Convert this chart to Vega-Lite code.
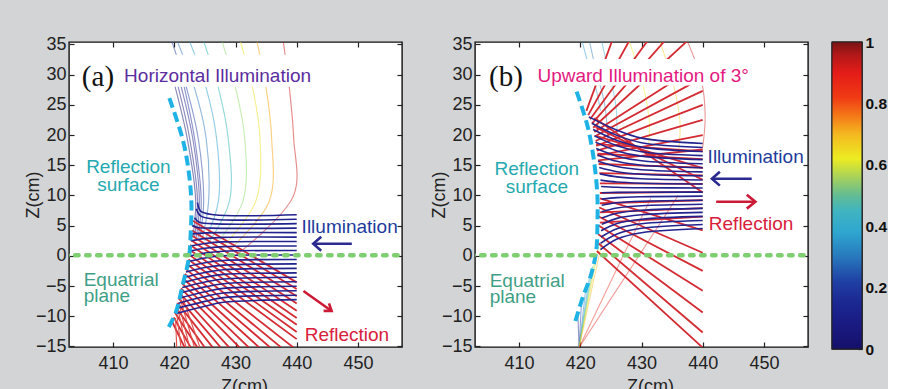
{
"$schema": "https://vega.github.io/schema/vega-lite/v6.json",
"background": "#d3d4d6",
"padding": {"left": 23, "top": 34, "right": 0, "bottom": 0},
"spacing": 20,
"config": {
 "view": {"fill": "white", "stroke": "#111", "strokeWidth": 1.4},
 "axis": {"labelFont": "Liberation Sans", "labelFontSize": 18, "labelColor": "#222", "titleFont": "Liberation Sans", "titleFontSize": 18, "titleFontWeight": "normal", "titleColor": "#222", "tickColor": "#222", "tickSize": -5, "tickWidth": 1.2, "domain": false, "grid": false},
 "text": {"font": "Liberation Sans"}
},
"datasets": {
 "eq": [{"p":0,"x":402,"z":0.1},{"p":1,"x":458,"z":0.1}],
 "surf_a": [{"p":0,"x":419.1,"z":-11.8},{"p":1,"x":420.3,"z":-9.2},{"p":2,"x":421.4,"z":-4.7},{"p":3,"x":422.4,"z":-0.3},{"p":4,"x":422.7,"z":4.2},{"p":5,"x":422.8,"z":8.6},{"p":6,"x":422.4,"z":13.6},{"p":7,"x":421.4,"z":19.2},{"p":8,"x":419.2,"z":26.1}],
 "surf_b": [{"p":0,"x":419.2,"z":-10.8},{"p":1,"x":420.4,"z":-6.9},{"p":2,"x":421.8,"z":-3},{"p":3,"x":422.6,"z":0.8},{"p":4,"x":422.8,"z":5.3},{"p":5,"x":422.8,"z":9.7},{"p":6,"x":422.3,"z":15.3},{"p":7,"x":421.2,"z":21.4},{"p":8,"x":419.4,"z":27.2}],
 "inc_a": [
  {"id":"a0","p":0,"x":440,"z":6.8},{"id":"a0","p":1,"x":426.5,"z":6.8},{"id":"a0","p":2,"x":424.3,"z":7.4},{"id":"a0","p":3,"x":423.8,"z":8.8},
  {"id":"a1","p":0,"x":440,"z":6.06},{"id":"a1","p":1,"x":426.5,"z":6.06},{"id":"a1","p":2,"x":424.3,"z":6.6},{"id":"a1","p":3,"x":423.6,"z":7.8},
  {"id":"a2","p":0,"x":440,"z":5.32},{"id":"a2","p":1,"x":426,"z":5.32},{"id":"a2","p":2,"x":424,"z":5.6},{"id":"a2","p":3,"x":423.3,"z":6.3},
  {"id":"a3","p":0,"x":440,"z":4.58},{"id":"a3","p":1,"x":426,"z":4.58},{"id":"a3","p":2,"x":423.8,"z":4.7},{"id":"a3","p":3,"x":422.9,"z":5.0},
  {"id":"a4","p":0,"x":440,"z":3.84},{"id":"a4","p":1,"x":428,"z":3.84},{"id":"a4","p":2,"x":425,"z":3.8},{"id":"a4","p":3,"x":422.8,"z":3.6},
  {"id":"a5","p":0,"x":440,"z":3.1},{"id":"a5","p":1,"x":428,"z":3.05},{"id":"a5","p":2,"x":425,"z":2.85},{"id":"a5","p":3,"x":422.7,"z":2.5},
  {"id":"a6","p":0,"x":440,"z":2.36},{"id":"a6","p":1,"x":428,"z":2.3},{"id":"a6","p":2,"x":425,"z":2.05},{"id":"a6","p":3,"x":422.6,"z":1.63},
  {"id":"a7","p":0,"x":440,"z":1.62},{"id":"a7","p":1,"x":428,"z":1.52},{"id":"a7","p":2,"x":425,"z":1.25},{"id":"a7","p":3,"x":422.5,"z":0.77},
  {"id":"a8","p":0,"x":440,"z":0.88},{"id":"a8","p":1,"x":428,"z":0.75},{"id":"a8","p":2,"x":425,"z":0.45},{"id":"a8","p":3,"x":422.4,"z":-0.09},
  {"id":"a9","p":0,"x":440,"z":0.14},{"id":"a9","p":1,"x":428,"z":0},{"id":"a9","p":2,"x":425,"z":-0.35},{"id":"a9","p":3,"x":422.2,"z":-0.95},
  {"id":"a10","p":0,"x":440,"z":-0.6},{"id":"a10","p":1,"x":428,"z":-0.78},{"id":"a10","p":2,"x":425,"z":-1.15},{"id":"a10","p":3,"x":422.0,"z":-1.81},
  {"id":"a11","p":0,"x":440,"z":-1.34},{"id":"a11","p":1,"x":428,"z":-1.55},{"id":"a11","p":2,"x":425,"z":-1.95},{"id":"a11","p":3,"x":421.9,"z":-2.68},
  {"id":"a12","p":0,"x":440,"z":-2.08},{"id":"a12","p":1,"x":428,"z":-2.3},{"id":"a12","p":2,"x":425,"z":-2.75},{"id":"a12","p":3,"x":421.7,"z":-3.54},
  {"id":"a13","p":0,"x":440,"z":-2.82},{"id":"a13","p":1,"x":428,"z":-3.08},{"id":"a13","p":2,"x":425,"z":-3.55},{"id":"a13","p":3,"x":421.5,"z":-4.4},
  {"id":"a14","p":0,"x":440,"z":-3.56},{"id":"a14","p":1,"x":428,"z":-3.85},{"id":"a14","p":2,"x":425,"z":-4.35},{"id":"a14","p":3,"x":421.3,"z":-5.26},
  {"id":"a15","p":0,"x":440,"z":-4.3},{"id":"a15","p":1,"x":428,"z":-4.62},{"id":"a15","p":2,"x":425,"z":-5.15},{"id":"a15","p":3,"x":421.1,"z":-6.12},
  {"id":"a16","p":0,"x":440,"z":-5.04},{"id":"a16","p":1,"x":428,"z":-5.4},{"id":"a16","p":2,"x":425,"z":-5.95},{"id":"a16","p":3,"x":420.9,"z":-6.98},
  {"id":"a17","p":0,"x":440,"z":-5.78},{"id":"a17","p":1,"x":428,"z":-6.16},{"id":"a17","p":2,"x":425,"z":-6.75},{"id":"a17","p":3,"x":420.7,"z":-7.84},
  {"id":"a18","p":0,"x":440,"z":-6.52},{"id":"a18","p":1,"x":428,"z":-6.92},{"id":"a18","p":2,"x":425,"z":-7.55},{"id":"a18","p":3,"x":420.5,"z":-8.7},
  {"id":"a19","p":0,"x":440,"z":-7.26},{"id":"a19","p":1,"x":428,"z":-7.7},{"id":"a19","p":2,"x":425,"z":-8.35},{"id":"a19","p":3,"x":420.3,"z":-9.56}
 ],
 "ref_a": [
  {"id":"r0","p":0,"x":423.0,"z":5.8},{"id":"r0","p":1,"x":440,"z":-4.4},
  {"id":"r1","p":0,"x":423.0,"z":5.0},{"id":"r1","p":1,"x":440,"z":-5.5},
  {"id":"r2","p":0,"x":422.9,"z":4.2},{"id":"r2","p":1,"x":440,"z":-6.7},
  {"id":"r3","p":0,"x":422.8,"z":3.4},{"id":"r3","p":1,"x":440,"z":-7.9},
  {"id":"r4","p":0,"x":422.7,"z":2.6},{"id":"r4","p":1,"x":440,"z":-9.1},
  {"id":"r5","p":0,"x":422.6,"z":1.8},{"id":"r5","p":1,"x":440,"z":-10.3},
  {"id":"r6","p":0,"x":422.5,"z":1.0},{"id":"r6","p":1,"x":440,"z":-11.4},
  {"id":"r7","p":0,"x":422.4,"z":0.2},{"id":"r7","p":1,"x":440,"z":-12.6},
  {"id":"r8","p":0,"x":422.3,"z":-0.6},{"id":"r8","p":1,"x":440,"z":-13.8},
  {"id":"r9","p":0,"x":422.1,"z":-1.4},{"id":"r9","p":1,"x":439.5,"z":-15.2},
  {"id":"r10","p":0,"x":421.9,"z":-2.2},{"id":"r10","p":1,"x":437.5,"z":-15.2},
  {"id":"r11","p":0,"x":421.7,"z":-3.0},{"id":"r11","p":1,"x":435.7,"z":-15.2},
  {"id":"r12","p":0,"x":421.5,"z":-3.8},{"id":"r12","p":1,"x":433.9,"z":-15.2},
  {"id":"r13","p":0,"x":421.3,"z":-4.6},{"id":"r13","p":1,"x":432.2,"z":-15.2},
  {"id":"r14","p":0,"x":421.1,"z":-5.4},{"id":"r14","p":1,"x":430.7,"z":-15.2},
  {"id":"r15","p":0,"x":420.9,"z":-6.2},{"id":"r15","p":1,"x":429.0,"z":-15.2},
  {"id":"r16","p":0,"x":420.7,"z":-7.0},{"id":"r16","p":1,"x":427.6,"z":-15.2},
  {"id":"r17","p":0,"x":420.5,"z":-7.8},{"id":"r17","p":1,"x":426.3,"z":-15.2},
  {"id":"r18","p":0,"x":420.3,"z":-8.6},{"id":"r18","p":1,"x":425.0,"z":-15.2},
  {"id":"r19","p":0,"x":420.1,"z":-9.4},{"id":"r19","p":1,"x":423.8,"z":-15.2},
  {"id":"r20","p":0,"x":419.9,"z":-10.2},{"id":"r20","p":1,"x":422.7,"z":-15.2},
  {"id":"r21","p":0,"x":419.7,"z":-11.0},{"id":"r21","p":1,"x":421.7,"z":-15.2}
 ],
 "ref_a_thin": [
  {"id":"t0","p":0,"x":420.2,"z":-10.3},{"id":"t0","p":1,"x":420.4,"z":-15.2},
  {"id":"t1","p":0,"x":420.4,"z":-9.6},{"id":"t1","p":1,"x":421.1,"z":-15.2},
  {"id":"t2","p":0,"x":420.6,"z":-8.8},{"id":"t2","p":1,"x":421.9,"z":-15.2},
  {"id":"t3","p":0,"x":420.8,"z":-8.0},{"id":"t3","p":1,"x":422.5,"z":-15.2},
  {"id":"t4","p":0,"x":421.0,"z":-7.2},{"id":"t4","p":1,"x":423.3,"z":-15.2},
  {"id":"t5","p":0,"x":421.2,"z":-6.4},{"id":"t5","p":1,"x":424.2,"z":-15.2}
 ],
 "arc_a": [
  {"id":"k0","v":0.02,"p":0,"x":423.0,"z":3},{"id":"k0","v":0.02,"p":1,"x":423.5,"z":9},{"id":"k0","v":0.02,"p":2,"x":422.1,"z":19.5},{"id":"k0","v":0.02,"p":3,"x":420.0,"z":28.5},
  {"id":"k1","v":0.06,"p":0,"x":423.3,"z":3},{"id":"k1","v":0.06,"p":1,"x":423.8,"z":9},{"id":"k1","v":0.06,"p":2,"x":422.5,"z":19.5},{"id":"k1","v":0.06,"p":3,"x":420.5,"z":28.5},
  {"id":"k2","v":0.1,"p":0,"x":423.6,"z":3},{"id":"k2","v":0.1,"p":1,"x":424.1,"z":9},{"id":"k2","v":0.1,"p":2,"x":423.0,"z":19.5},{"id":"k2","v":0.1,"p":3,"x":421.0,"z":28.5},
  {"id":"k3","v":0.14,"p":0,"x":423.9,"z":3},{"id":"k3","v":0.14,"p":1,"x":424.4,"z":9},{"id":"k3","v":0.14,"p":2,"x":423.3,"z":19.5},{"id":"k3","v":0.14,"p":3,"x":421.5,"z":28.5},
  {"id":"k4","v":0.2,"p":0,"x":424.2,"z":3},{"id":"k4","v":0.2,"p":1,"x":424.8,"z":9},{"id":"k4","v":0.2,"p":2,"x":423.9,"z":19.5},{"id":"k4","v":0.2,"p":3,"x":422.0,"z":27.8},{"id":"k4","v":0.2,"p":4,"x":419.6,"z":35.5},
  {"id":"k5","v":0.3,"p":0,"x":424.6,"z":3},{"id":"k5","v":0.3,"p":1,"x":425.6,"z":9},{"id":"k5","v":0.3,"p":2,"x":425.2,"z":19.5},{"id":"k5","v":0.3,"p":3,"x":423.3,"z":27.8},{"id":"k5","v":0.3,"p":4,"x":420.5,"z":35.5},
  {"id":"k6","v":0.38,"p":0,"x":425.0,"z":2.5},{"id":"k6","v":0.38,"p":1,"x":427.2,"z":9},{"id":"k6","v":0.38,"p":2,"x":426.9,"z":19.5},{"id":"k6","v":0.38,"p":3,"x":425.2,"z":27.8},{"id":"k6","v":0.38,"p":4,"x":422.5,"z":35.5},
  {"id":"k7","v":0.45,"p":0,"x":425.5,"z":2},{"id":"k7","v":0.45,"p":1,"x":429.0,"z":9},{"id":"k7","v":0.45,"p":2,"x":428.8,"z":19.5},{"id":"k7","v":0.45,"p":3,"x":427.2,"z":27.8},{"id":"k7","v":0.45,"p":4,"x":424.8,"z":35.5},
  {"id":"k8","v":0.55,"p":0,"x":426.5,"z":1.5},{"id":"k8","v":0.55,"p":1,"x":431.2,"z":9},{"id":"k8","v":0.55,"p":2,"x":431.5,"z":19.5},{"id":"k8","v":0.55,"p":3,"x":430.0,"z":27.8},{"id":"k8","v":0.55,"p":4,"x":427.8,"z":35.5},
  {"id":"k9","v":0.62,"p":0,"x":427.5,"z":1},{"id":"k9","v":0.62,"p":1,"x":433.3,"z":9},{"id":"k9","v":0.62,"p":2,"x":434.0,"z":19.5},{"id":"k9","v":0.62,"p":3,"x":432.8,"z":27.8},{"id":"k9","v":0.62,"p":4,"x":430.8,"z":35.5},
  {"id":"k10","v":0.72,"p":0,"x":428.5,"z":0.5},{"id":"k10","v":0.72,"p":1,"x":435.5,"z":9},{"id":"k10","v":0.72,"p":2,"x":435.9,"z":19.5},{"id":"k10","v":0.72,"p":3,"x":435.0,"z":27.8},{"id":"k10","v":0.72,"p":4,"x":433.5,"z":35.5},
  {"id":"k11","v":0.92,"p":0,"x":430.0,"z":0},{"id":"k11","v":0.92,"p":1,"x":439.5,"z":10},{"id":"k11","v":0.92,"p":2,"x":439.5,"z":19.5},{"id":"k11","v":0.92,"p":3,"x":438.8,"z":27.8},{"id":"k11","v":0.92,"p":4,"x":437.8,"z":35.5}
 ],
 "inc_b": [
  {"id":"b0","p":0,"x":440,"z":18.6},{"id":"b0","p":1,"x":430,"z":19.48},{"id":"b0","p":2,"x":426,"z":20.8},{"id":"b0","p":3,"x":421.4,"z":23.0},
  {"id":"b1","p":0,"x":440,"z":17.93},{"id":"b1","p":1,"x":430,"z":18.73},{"id":"b1","p":2,"x":426,"z":19.94},{"id":"b1","p":3,"x":421.9,"z":21.95},
  {"id":"b2","p":0,"x":440,"z":17.26},{"id":"b2","p":1,"x":430,"z":17.99},{"id":"b2","p":2,"x":426,"z":19.09},{"id":"b2","p":3,"x":422.1,"z":20.91},
  {"id":"b3","p":0,"x":440,"z":16.59},{"id":"b3","p":1,"x":430,"z":17.24},{"id":"b3","p":2,"x":426,"z":18.23},{"id":"b3","p":3,"x":422.3,"z":19.86},
  {"id":"b4","p":0,"x":440,"z":15.92},{"id":"b4","p":1,"x":430,"z":16.5},{"id":"b4","p":2,"x":426,"z":17.37},{"id":"b4","p":3,"x":422.5,"z":18.82},
  {"id":"b5","p":0,"x":440,"z":15.24},{"id":"b5","p":1,"x":430,"z":15.74},{"id":"b5","p":2,"x":426,"z":16.5},{"id":"b5","p":3,"x":422.6,"z":17.76},
  {"id":"b6","p":0,"x":440,"z":14.57},{"id":"b6","p":1,"x":430,"z":15.0},{"id":"b6","p":2,"x":426,"z":15.64},{"id":"b6","p":3,"x":422.8,"z":16.71},
  {"id":"b7","p":0,"x":440,"z":13.9},{"id":"b7","p":1,"x":430,"z":14.25},{"id":"b7","p":2,"x":426,"z":14.78},{"id":"b7","p":3,"x":422.9,"z":15.66},
  {"id":"b8","p":0,"x":440,"z":13.23},{"id":"b8","p":1,"x":430,"z":13.51},{"id":"b8","p":2,"x":426,"z":13.93},{"id":"b8","p":3,"x":423.1,"z":14.62},
  {"id":"b9","p":0,"x":440,"z":12.56},{"id":"b9","p":1,"x":430,"z":12.76},{"id":"b9","p":2,"x":426,"z":13.07},{"id":"b9","p":3,"x":423.2,"z":13.57},
  {"id":"b10","p":0,"x":440,"z":11.89},{"id":"b10","p":1,"x":430,"z":12.02},{"id":"b10","p":2,"x":426,"z":12.21},{"id":"b10","p":3,"x":423.3,"z":12.53},
  {"id":"b11","p":0,"x":440,"z":11.22},{"id":"b11","p":1,"x":430,"z":11.27},{"id":"b11","p":2,"x":426,"z":11.35},{"id":"b11","p":3,"x":423.4,"z":11.48},
  {"id":"b12","p":0,"x":440,"z":10.55},{"id":"b12","p":1,"x":430,"z":10.53},{"id":"b12","p":2,"x":426,"z":10.5},{"id":"b12","p":3,"x":423.5,"z":10.44},
  {"id":"b13","p":0,"x":440,"z":9.88},{"id":"b13","p":1,"x":430,"z":9.78},{"id":"b13","p":2,"x":426,"z":9.64},{"id":"b13","p":3,"x":423.5,"z":9.39},
  {"id":"b14","p":0,"x":440,"z":9.21},{"id":"b14","p":1,"x":430,"z":9.04},{"id":"b14","p":2,"x":426,"z":8.78},{"id":"b14","p":3,"x":423.5,"z":8.35},
  {"id":"b15","p":0,"x":440,"z":8.54},{"id":"b15","p":1,"x":430,"z":8.29},{"id":"b15","p":2,"x":426,"z":7.92},{"id":"b15","p":3,"x":423.5,"z":7.3},
  {"id":"b16","p":0,"x":440,"z":7.86},{"id":"b16","p":1,"x":430,"z":7.54},{"id":"b16","p":2,"x":426,"z":7.05},{"id":"b16","p":3,"x":423.5,"z":6.24},
  {"id":"b17","p":0,"x":440,"z":7.19},{"id":"b17","p":1,"x":430,"z":6.79},{"id":"b17","p":2,"x":426,"z":6.2},{"id":"b17","p":3,"x":423.5,"z":5.2},
  {"id":"b18","p":0,"x":440,"z":6.52},{"id":"b18","p":1,"x":430,"z":6.05},{"id":"b18","p":2,"x":426,"z":5.34},{"id":"b18","p":3,"x":423.4,"z":4.15},
  {"id":"b19","p":0,"x":440,"z":5.85},{"id":"b19","p":1,"x":430,"z":5.3},{"id":"b19","p":2,"x":426,"z":4.48},{"id":"b19","p":3,"x":423.4,"z":3.11},
  {"id":"b20","p":0,"x":440,"z":5.18},{"id":"b20","p":1,"x":430,"z":4.56},{"id":"b20","p":2,"x":426,"z":3.62},{"id":"b20","p":3,"x":423.3,"z":2.06},
  {"id":"b21","p":0,"x":440,"z":4.51},{"id":"b21","p":1,"x":430,"z":3.81},{"id":"b21","p":2,"x":426,"z":2.77},{"id":"b21","p":3,"x":423.3,"z":1.02}
 ],
 "ref_b": [
  {"id":"u0","p":0,"x":421.0,"z":24.0},{"id":"u0","p":1,"x":425.2,"z":35.6},
  {"id":"u1","p":0,"x":421.3,"z":23.3},{"id":"u1","p":1,"x":428.0,"z":35.6},
  {"id":"u2","p":0,"x":421.6,"z":22.6},{"id":"u2","p":1,"x":431.0,"z":35.6},
  {"id":"u3","p":0,"x":421.9,"z":21.9},{"id":"u3","p":1,"x":433.8,"z":35.6},
  {"id":"u4","p":0,"x":422.1,"z":21.2},{"id":"u4","p":1,"x":437.5,"z":35.6},
  {"id":"u5","p":0,"x":422.3,"z":20.5},{"id":"u5","p":1,"x":440,"z":32.0},
  {"id":"u6","p":0,"x":422.4,"z":19.8},{"id":"u6","p":1,"x":440,"z":29.5},
  {"id":"u7","p":0,"x":422.5,"z":19.0},{"id":"u7","p":1,"x":440,"z":27.3},
  {"id":"u8","p":0,"x":422.6,"z":18.2},{"id":"u8","p":1,"x":440,"z":25.0},
  {"id":"u9","p":0,"x":422.7,"z":17.4},{"id":"u9","p":1,"x":440,"z":22.5},
  {"id":"u10","p":0,"x":422.8,"z":16.6},{"id":"u10","p":1,"x":440,"z":20.0},
  {"id":"u11","p":0,"x":422.9,"z":15.8},{"id":"u11","p":1,"x":440,"z":17.6},
  {"id":"h0","p":0,"x":422.6,"z":18.5},{"id":"h0","p":1,"x":440,"z":17.3},
  {"id":"h1","p":0,"x":422.8,"z":16.9},{"id":"h1","p":1,"x":440,"z":16.0},
  {"id":"h2","p":0,"x":423.0,"z":15.2},{"id":"h2","p":1,"x":440,"z":14.6},
  {"id":"h3","p":0,"x":423.1,"z":13.7},{"id":"h3","p":1,"x":440,"z":13.3},
  {"id":"h4","p":0,"x":423.2,"z":12.0},{"id":"h4","p":1,"x":440,"z":11.9},
  {"id":"h5","p":0,"x":423.2,"z":10.4},{"id":"h5","p":1,"x":440,"z":10.6},
  {"id":"h6","p":0,"x":423.2,"z":8.7},{"id":"h6","p":1,"x":440,"z":9.2},
  {"id":"h7","p":0,"x":423.2,"z":7.2},{"id":"h7","p":1,"x":440,"z":7.9},
  {"id":"h8","p":0,"x":423.2,"z":5.5},{"id":"h8","p":1,"x":440,"z":6.5},
  {"id":"d0","p":0,"x":423.2,"z":9.5},{"id":"d0","p":1,"x":440,"z":4.2},
  {"id":"d1","p":0,"x":423.1,"z":8.0},{"id":"d1","p":1,"x":440,"z":0.5},
  {"id":"d2","p":0,"x":423.0,"z":6.5},{"id":"d2","p":1,"x":440,"z":-2.5},
  {"id":"d3","p":0,"x":423.0,"z":5.0},{"id":"d3","p":1,"x":440,"z":-5.8},
  {"id":"d4","p":0,"x":422.9,"z":3.6},{"id":"d4","p":1,"x":440,"z":-9.4},
  {"id":"d5","p":0,"x":422.8,"z":2.2},{"id":"d5","p":1,"x":440,"z":-12.7},
  {"id":"d6","p":0,"x":422.7,"z":0.8},{"id":"d6","p":1,"x":440,"z":-15.2},
  {"id":"x0","p":0,"x":422.3,"z":22.8},{"id":"x0","p":1,"x":440,"z":10.5},
  {"id":"x1","p":0,"x":422.5,"z":21.3},{"id":"x1","p":1,"x":440,"z":12.6},
  {"id":"x2","p":0,"x":422.7,"z":19.8},{"id":"x2","p":1,"x":440,"z":14.5}
 ],
 "arc_b": [
  {"id":"f0","v":0.1,"p":0,"x":419.8,"z":-15.2},{"id":"f0","v":0.1,"p":1,"x":419.6,"z":-9.5},
  {"id":"f1","v":0.2,"p":0,"x":419.8,"z":-15.2},{"id":"f1","v":0.2,"p":1,"x":420.2,"z":-7.5},
  {"id":"f2","v":0.3,"p":0,"x":419.8,"z":-15.2},{"id":"f2","v":0.3,"p":1,"x":420.9,"z":-5.5},
  {"id":"f3","v":0.38,"p":0,"x":419.8,"z":-15.2},{"id":"f3","v":0.38,"p":1,"x":421.5,"z":-3.5},
  {"id":"f4","v":0.45,"p":0,"x":419.8,"z":-15.2},{"id":"f4","v":0.45,"p":1,"x":422.0,"z":-1.8},
  {"id":"f5","v":0.55,"p":0,"x":419.8,"z":-15.2},{"id":"f5","v":0.55,"p":1,"x":422.5,"z":0},
  {"id":"f6","v":0.62,"p":0,"x":419.8,"z":-15.2},{"id":"f6","v":0.62,"p":1,"x":423.0,"z":1.5},
  {"id":"f7","v":0.7,"p":0,"x":419.8,"z":-15.2},{"id":"f7","v":0.7,"p":1,"x":423.6,"z":2.5},
  {"id":"f8","v":0.88,"p":0,"x":419.8,"z":-15.2},{"id":"f8","v":0.88,"p":1,"x":431.5,"z":9.5},
  {"id":"f9","v":0.9,"p":0,"x":419.8,"z":-15.2},{"id":"f9","v":0.9,"p":1,"x":436,"z":10},
  {"id":"g0","v":0.35,"p":0,"x":420.3,"z":35.5},{"id":"g0","v":0.35,"p":1,"x":421.5,"z":31},{"id":"g0","v":0.35,"p":2,"x":422.6,"z":27.5},{"id":"g0","v":0.35,"p":3,"x":423.3,"z":24},
  {"id":"g4","v":0.3,"p":0,"x":421.5,"z":35.5},{"id":"g4","v":0.3,"p":1,"x":422.5,"z":31},{"id":"g4","v":0.3,"p":2,"x":424,"z":25},{"id":"g4","v":0.3,"p":3,"x":424.5,"z":19},
  {"id":"g5","v":0.4,"p":0,"x":423.5,"z":35.5},{"id":"g5","v":0.4,"p":1,"x":424.5,"z":31},{"id":"g5","v":0.4,"p":2,"x":425.8,"z":25},{"id":"g5","v":0.4,"p":3,"x":426,"z":19},
  {"id":"g1","v":0.6,"p":0,"x":428,"z":35.5},{"id":"g1","v":0.6,"p":1,"x":430.3,"z":28},{"id":"g1","v":0.6,"p":2,"x":431.3,"z":22},{"id":"g1","v":0.6,"p":3,"x":431,"z":17},
  {"id":"g2","v":0.66,"p":0,"x":433,"z":35.5},{"id":"g2","v":0.66,"p":1,"x":435.3,"z":28},{"id":"g2","v":0.66,"p":2,"x":436.3,"z":22},{"id":"g2","v":0.66,"p":3,"x":436,"z":17},
  {"id":"g3","v":0.92,"p":0,"x":437.5,"z":35.5},{"id":"g3","v":0.92,"p":1,"x":439.8,"z":29},{"id":"g3","v":0.92,"p":2,"x":440.4,"z":23},{"id":"g3","v":0.92,"p":3,"x":440,"z":18}
 ],
 "arr_a": [
  {"id":"s1","k":"illum","p":0,"x":449,"z":2.0},{"id":"s1","k":"illum","p":1,"x":442.8,"z":2.0},
  {"id":"h1","k":"illum","p":0,"x":444.0,"z":3.15},{"id":"h1","k":"illum","p":1,"x":442.7,"z":2.0},{"id":"h1","k":"illum","p":2,"x":444.0,"z":0.85},
  {"id":"s2","k":"refl","p":0,"x":441.1,"z":-5.83},{"id":"s2","k":"refl","p":1,"x":445.7,"z":-9.14},
  {"id":"h2","k":"refl","p":0,"x":445.27,"z":-7.87},{"id":"h2","k":"refl","p":1,"x":445.7,"z":-9.14},{"id":"h2","k":"refl","p":2,"x":444.39,"z":-9.12}
 ],
 "arr_b": [
  {"id":"s1","k":"illum","p":0,"x":448,"z":12.77},{"id":"s1","k":"illum","p":1,"x":441.6,"z":12.77},
  {"id":"h1","k":"illum","p":0,"x":442.8,"z":13.92},{"id":"h1","k":"illum","p":1,"x":441.5,"z":12.77},{"id":"h1","k":"illum","p":2,"x":442.8,"z":11.62},
  {"id":"s2","k":"refl","p":0,"x":442.2,"z":8.96},{"id":"s2","k":"refl","p":1,"x":448.5,"z":8.96},
  {"id":"h2","k":"refl","p":0,"x":447.2,"z":10.11},{"id":"h2","k":"refl","p":1,"x":448.6,"z":8.96},{"id":"h2","k":"refl","p":2,"x":447.2,"z":7.81}
 ],
 "txt_a": [
  {"k":"lab","x":404.9,"z":28.1,"t":"(a)"},
  {"k":"title","x":411.8,"z":28.7,"t":"Horizontal Illumination"},
  {"k":"surf","x":412.5,"z":13.76,"t":"Reflection"},
  {"k":"surf","x":412.5,"z":10.73,"t":"surface"},
  {"k":"eq","x":405.2,"z":-5.0,"t":"Equatrial"},
  {"k":"eq","x":405.2,"z":-7.65,"t":"plane"},
  {"k":"illum","x":440.8,"z":3.83,"t":"Illumination"},
  {"k":"refl","x":441.3,"z":-14.1,"t":"Reflection"}
 ],
 "txt_b": [
  {"k":"lab","x":405.1,"z":28.1,"t":"(b)"},
  {"k":"title","x":413,"z":28.7,"t":"Upward Illumination of 3°"},
  {"k":"surf","x":412.9,"z":13.33,"t":"Reflection"},
  {"k":"surf","x":412.9,"z":10.4,"t":"surface"},
  {"k":"eq","x":405.2,"z":-5.16,"t":"Equatrial"},
  {"k":"eq","x":405.2,"z":-7.8,"t":"plane"},
  {"k":"illum","x":440.8,"z":15.32,"t":"Illumination"},
  {"k":"refl","x":441.0,"z":4.27,"t":"Reflection"}
 ],
 "mask_a": [{"x1":411.5,"x2":444,"z1":28.0,"z2":33.3}],
 "mask_b": [{"x1":412.5,"x2":449.5,"z1":28.2,"z2":32.6}]
},
"hconcat": [
 {
 "spacing": 25,
 "hconcat": [
 {
  "width": 333, "height": 305,
  "resolve": {"axis": {"x": "independent", "y": "independent"}},
  "layer": [
   {"data": {"name": "arc_a"},
    "mark": {"type": "line", "strokeWidth": 1.15, "opacity": 0.5, "interpolate": "catmull-rom", "clip": true},
    "encoding": {
     "x": {"field": "x", "type": "quantitative", "scale": {"domain": [402.8, 457.2], "nice": false, "zero": false}, "axis": {"orient": "bottom", "values": [410, 420, 430, 440, 450], "title": "Z(cm)", "labelPadding": 12, "titlePadding": 5, "titleX": 175}},
     "y": {"field": "z", "type": "quantitative", "scale": {"domain": [-15.1, 35.4], "nice": false, "zero": false}, "axis": {"orient": "left", "values": [-15, -10, -5, 0, 5, 10, 15, 20, 25, 30, 35], "title": "Z(cm)", "labelPadding": 8, "titlePadding": -7}},
     "color": {"field": "v", "type": "quantitative", "legend": null, "scale": {"domain": [0, 0.1, 0.2, 0.3, 0.4, 0.5, 0.6, 0.7, 0.8, 0.9, 1], "range": ["#14106a", "#1a1a86", "#1f40a4", "#2878bc", "#2ea6d0", "#62bc94", "#ecec22", "#f4b820", "#f03a14", "#e41c18", "#781414"]}},
     "detail": {"field": "id", "type": "nominal"},
     "order": {"field": "p", "type": "quantitative"}}},
   {"data": {"name": "ref_a"},
    "mark": {"type": "line", "color": "#d42a32", "strokeWidth": 1.8, "clip": true},
    "encoding": {
     "x": {"field": "x", "type": "quantitative", "scale": {"domain": [402.8, 457.2], "nice": false, "zero": false}, "axis": {"orient": "top", "values": [410, 420, 430, 440, 450], "labels": false, "title": null}},
     "y": {"field": "z", "type": "quantitative", "scale": {"domain": [-15.1, 35.4], "nice": false, "zero": false}, "axis": {"orient": "right", "values": [-15, -10, -5, 0, 5, 10, 15, 20, 25, 30, 35], "labels": false, "title": null}},
     "detail": {"field": "id", "type": "nominal"},
     "order": {"field": "p", "type": "quantitative"}}},
   {"data": {"name": "ref_a_thin"},
    "mark": {"type": "line", "color": "#e0504a", "strokeWidth": 1.1, "clip": true},
    "encoding": {
     "x": {"field": "x", "type": "quantitative", "axis": null},
     "y": {"field": "z", "type": "quantitative", "axis": null},
     "detail": {"field": "id", "type": "nominal"},
     "order": {"field": "p", "type": "quantitative"}}},
   {"data": {"name": "inc_a"},
    "mark": {"type": "line", "color": "#22238e", "strokeWidth": 1.6, "interpolate": "catmull-rom", "clip": true},
    "encoding": {
     "x": {"field": "x", "type": "quantitative", "axis": null},
     "y": {"field": "z", "type": "quantitative", "axis": null},
     "detail": {"field": "id", "type": "nominal"},
     "order": {"field": "p", "type": "quantitative"}}},
   {"data": {"name": "surf_a"},
    "mark": {"type": "line", "color": "#1fb2e4", "strokeWidth": 4, "strokeDash": [10, 5], "interpolate": "catmull-rom", "clip": true},
    "encoding": {
     "x": {"field": "x", "type": "quantitative", "axis": null},
     "y": {"field": "z", "type": "quantitative", "axis": null},
     "order": {"field": "p", "type": "quantitative"}}},
   {"data": {"name": "eq"},
    "mark": {"type": "line", "color": "#7fcf72", "strokeWidth": 4.5, "strokeDash": [3.5, 7.5], "strokeCap": "round", "clip": true},
    "encoding": {
     "x": {"field": "x", "type": "quantitative", "axis": null},
     "y": {"field": "z", "type": "quantitative", "axis": null},
     "order": {"field": "p", "type": "quantitative"}}},
   {"data": {"name": "mask_a"},
    "mark": {"type": "rect", "color": "white"},
    "encoding": {
     "x": {"field": "x1", "type": "quantitative", "axis": null}, "x2": {"field": "x2"},
     "y": {"field": "z1", "type": "quantitative", "axis": null}, "y2": {"field": "z2"}}},
   {"data": {"name": "arr_a"}, "transform": [{"filter": "datum.k == 'illum'"}],
    "mark": {"type": "line", "color": "#2a2a90", "strokeWidth": 2.6},
    "encoding": {
     "x": {"field": "x", "type": "quantitative", "axis": null},
     "y": {"field": "z", "type": "quantitative", "axis": null},
     "detail": {"field": "id", "type": "nominal"},
     "order": {"field": "p", "type": "quantitative"}}},
   {"data": {"name": "arr_a"}, "transform": [{"filter": "datum.k == 'refl'"}],
    "mark": {"type": "line", "color": "#cc1a36", "strokeWidth": 2.6},
    "encoding": {
     "x": {"field": "x", "type": "quantitative", "axis": null},
     "y": {"field": "z", "type": "quantitative", "axis": null},
     "detail": {"field": "id", "type": "nominal"},
     "order": {"field": "p", "type": "quantitative"}}},
   {"data": {"name": "txt_a"}, "transform": [{"filter": "datum.k == 'lab'"}],
    "mark": {"type": "text", "font": "Liberation Serif", "fontSize": 29, "align": "left", "baseline": "alphabetic", "color": "#111"},
    "encoding": {"x": {"field": "x", "type": "quantitative", "axis": null}, "y": {"field": "z", "type": "quantitative", "axis": null}, "text": {"field": "t"}}},
   {"data": {"name": "txt_a"}, "transform": [{"filter": "datum.k == 'title'"}],
    "mark": {"type": "text", "fontSize": 19, "align": "left", "baseline": "alphabetic", "color": "#5b2d9e"},
    "encoding": {"x": {"field": "x", "type": "quantitative", "axis": null}, "y": {"field": "z", "type": "quantitative", "axis": null}, "text": {"field": "t"}}},
   {"data": {"name": "txt_a"}, "transform": [{"filter": "datum.k == 'surf'"}],
    "mark": {"type": "text", "fontSize": 19, "align": "center", "baseline": "alphabetic", "color": "#25a9b0"},
    "encoding": {"x": {"field": "x", "type": "quantitative", "axis": null}, "y": {"field": "z", "type": "quantitative", "axis": null}, "text": {"field": "t"}}},
   {"data": {"name": "txt_a"}, "transform": [{"filter": "datum.k == 'eq'"}],
    "mark": {"type": "text", "fontSize": 19, "align": "left", "baseline": "alphabetic", "color": "#3f9f86"},
    "encoding": {"x": {"field": "x", "type": "quantitative", "axis": null}, "y": {"field": "z", "type": "quantitative", "axis": null}, "text": {"field": "t"}}},
   {"data": {"name": "txt_a"}, "transform": [{"filter": "datum.k == 'illum'"}],
    "mark": {"type": "text", "fontSize": 19, "align": "left", "baseline": "alphabetic", "color": "#1e3c9c"},
    "encoding": {"x": {"field": "x", "type": "quantitative", "axis": null}, "y": {"field": "z", "type": "quantitative", "axis": null}, "text": {"field": "t"}}},
   {"data": {"name": "txt_a"}, "transform": [{"filter": "datum.k == 'refl'"}],
    "mark": {"type": "text", "fontSize": 19, "align": "left", "baseline": "alphabetic", "color": "#d8203c"},
    "encoding": {"x": {"field": "x", "type": "quantitative", "axis": null}, "y": {"field": "z", "type": "quantitative", "axis": null}, "text": {"field": "t"}}}
  ]
 },
 {
  "width": 333, "height": 305,
  "resolve": {"axis": {"x": "independent", "y": "independent"}},
  "layer": [
   {"data": {"name": "arc_b"},
    "mark": {"type": "line", "strokeWidth": 1.1, "opacity": 0.45, "interpolate": "catmull-rom", "clip": true},
    "encoding": {
     "x": {"field": "x", "type": "quantitative", "scale": {"domain": [402.8, 457.2], "nice": false, "zero": false}, "axis": {"orient": "bottom", "values": [410, 420, 430, 440, 450], "title": "Z(cm)", "labelPadding": 12, "titlePadding": 5, "titleX": 175}},
     "y": {"field": "z", "type": "quantitative", "scale": {"domain": [-15.1, 35.4], "nice": false, "zero": false}, "axis": {"orient": "left", "values": [-15, -10, -5, 0, 5, 10, 15, 20, 25, 30, 35], "title": "Z(cm)", "labelPadding": 8, "titlePadding": -7}},
     "color": {"field": "v", "type": "quantitative", "legend": null, "scale": {"domain": [0, 0.1, 0.2, 0.3, 0.4, 0.5, 0.6, 0.7, 0.8, 0.9, 1], "range": ["#14106a", "#1a1a86", "#1f40a4", "#2878bc", "#2ea6d0", "#62bc94", "#ecec22", "#f4b820", "#f03a14", "#e41c18", "#781414"]}},
     "detail": {"field": "id", "type": "nominal"},
     "order": {"field": "p", "type": "quantitative"}}},
   {"data": {"name": "ref_b"},
    "mark": {"type": "line", "color": "#d42a32", "strokeWidth": 1.8, "clip": true},
    "encoding": {
     "x": {"field": "x", "type": "quantitative", "scale": {"domain": [402.8, 457.2], "nice": false, "zero": false}, "axis": {"orient": "top", "values": [410, 420, 430, 440, 450], "labels": false, "title": null}},
     "y": {"field": "z", "type": "quantitative", "scale": {"domain": [-15.1, 35.4], "nice": false, "zero": false}, "axis": {"orient": "right", "values": [-15, -10, -5, 0, 5, 10, 15, 20, 25, 30, 35], "labels": false, "title": null}},
     "detail": {"field": "id", "type": "nominal"},
     "order": {"field": "p", "type": "quantitative"}}},
   {"data": {"name": "inc_b"},
    "mark": {"type": "line", "color": "#22238e", "strokeWidth": 1.6, "interpolate": "catmull-rom", "clip": true},
    "encoding": {
     "x": {"field": "x", "type": "quantitative", "axis": null},
     "y": {"field": "z", "type": "quantitative", "axis": null},
     "detail": {"field": "id", "type": "nominal"},
     "order": {"field": "p", "type": "quantitative"}}},
   {"data": {"name": "surf_b"},
    "mark": {"type": "line", "color": "#1fb2e4", "strokeWidth": 4, "strokeDash": [10, 5], "interpolate": "catmull-rom", "clip": true},
    "encoding": {
     "x": {"field": "x", "type": "quantitative", "axis": null},
     "y": {"field": "z", "type": "quantitative", "axis": null},
     "order": {"field": "p", "type": "quantitative"}}},
   {"data": {"name": "eq"},
    "mark": {"type": "line", "color": "#7fcf72", "strokeWidth": 4.5, "strokeDash": [3.5, 7.5], "strokeCap": "round", "clip": true},
    "encoding": {
     "x": {"field": "x", "type": "quantitative", "axis": null},
     "y": {"field": "z", "type": "quantitative", "axis": null},
     "order": {"field": "p", "type": "quantitative"}}},
   {"data": {"name": "mask_b"},
    "mark": {"type": "rect", "color": "white"},
    "encoding": {
     "x": {"field": "x1", "type": "quantitative", "axis": null}, "x2": {"field": "x2"},
     "y": {"field": "z1", "type": "quantitative", "axis": null}, "y2": {"field": "z2"}}},
   {"data": {"name": "arr_b"}, "transform": [{"filter": "datum.k == 'illum'"}],
    "mark": {"type": "line", "color": "#2a2a90", "strokeWidth": 2.6},
    "encoding": {
     "x": {"field": "x", "type": "quantitative", "axis": null},
     "y": {"field": "z", "type": "quantitative", "axis": null},
     "detail": {"field": "id", "type": "nominal"},
     "order": {"field": "p", "type": "quantitative"}}},
   {"data": {"name": "arr_b"}, "transform": [{"filter": "datum.k == 'refl'"}],
    "mark": {"type": "line", "color": "#cc1a36", "strokeWidth": 2.6},
    "encoding": {
     "x": {"field": "x", "type": "quantitative", "axis": null},
     "y": {"field": "z", "type": "quantitative", "axis": null},
     "detail": {"field": "id", "type": "nominal"},
     "order": {"field": "p", "type": "quantitative"}}},
   {"data": {"name": "txt_b"}, "transform": [{"filter": "datum.k == 'lab'"}],
    "mark": {"type": "text", "font": "Liberation Serif", "fontSize": 29, "align": "left", "baseline": "alphabetic", "color": "#111"},
    "encoding": {"x": {"field": "x", "type": "quantitative", "axis": null}, "y": {"field": "z", "type": "quantitative", "axis": null}, "text": {"field": "t"}}},
   {"data": {"name": "txt_b"}, "transform": [{"filter": "datum.k == 'title'"}],
    "mark": {"type": "text", "fontSize": 19, "align": "left", "baseline": "alphabetic", "color": "#e3197f"},
    "encoding": {"x": {"field": "x", "type": "quantitative", "axis": null}, "y": {"field": "z", "type": "quantitative", "axis": null}, "text": {"field": "t"}}},
   {"data": {"name": "txt_b"}, "transform": [{"filter": "datum.k == 'surf'"}],
    "mark": {"type": "text", "fontSize": 19, "align": "center", "baseline": "alphabetic", "color": "#25a9b0"},
    "encoding": {"x": {"field": "x", "type": "quantitative", "axis": null}, "y": {"field": "z", "type": "quantitative", "axis": null}, "text": {"field": "t"}}},
   {"data": {"name": "txt_b"}, "transform": [{"filter": "datum.k == 'eq'"}],
    "mark": {"type": "text", "fontSize": 19, "align": "left", "baseline": "alphabetic", "color": "#3f9f86"},
    "encoding": {"x": {"field": "x", "type": "quantitative", "axis": null}, "y": {"field": "z", "type": "quantitative", "axis": null}, "text": {"field": "t"}}},
   {"data": {"name": "txt_b"}, "transform": [{"filter": "datum.k == 'illum'"}],
    "mark": {"type": "text", "fontSize": 19, "align": "left", "baseline": "alphabetic", "color": "#1e3c9c"},
    "encoding": {"x": {"field": "x", "type": "quantitative", "axis": null}, "y": {"field": "z", "type": "quantitative", "axis": null}, "text": {"field": "t"}}},
   {"data": {"name": "txt_b"}, "transform": [{"filter": "datum.k == 'refl'"}],
    "mark": {"type": "text", "fontSize": 19, "align": "left", "baseline": "alphabetic", "color": "#d8203c"},
    "encoding": {"x": {"field": "x", "type": "quantitative", "axis": null}, "y": {"field": "z", "type": "quantitative", "axis": null}, "text": {"field": "t"}}}
  ]
 }
 ]
 },
 {
  "width": 30, "height": 307,
  "data": {"values": [{"lo": 0, "hi": 1}]},
  "mark": {"type": "rect", "stroke": "#222", "strokeWidth": 1, "color": {"gradient": "linear", "x1": 0, "y1": 1, "x2": 0, "y2": 0, "stops": [
    {"offset": 0, "color": "#14106a"}, {"offset": 0.08, "color": "#1a1a82"}, {"offset": 0.16, "color": "#1c2a94"}, {"offset": 0.22, "color": "#1f40a4"},
    {"offset": 0.3, "color": "#2878bc"}, {"offset": 0.38, "color": "#2ea6d0"}, {"offset": 0.45, "color": "#40b4c0"}, {"offset": 0.5, "color": "#62bc94"},
    {"offset": 0.56, "color": "#a8d25a"}, {"offset": 0.62, "color": "#ecec22"}, {"offset": 0.7, "color": "#f4b820"}, {"offset": 0.76, "color": "#f47818"},
    {"offset": 0.82, "color": "#f03a14"}, {"offset": 0.9, "color": "#e41c18"}, {"offset": 0.96, "color": "#b01818"}, {"offset": 1, "color": "#781414"}]}},
  "encoding": {
   "y": {"field": "lo", "type": "quantitative", "scale": {"domain": [0, 1], "nice": false, "zero": false}, "axis": {"orient": "right", "values": [0, 0.2, 0.4, 0.6, 0.8, 1], "format": "~g", "labelFontWeight": "bold", "labelFontSize": 15.5, "labelColor": "#111", "title": null, "tickSize": -4, "labelPadding": 7}},
   "y2": {"field": "hi"}
  }
 }
]
}
